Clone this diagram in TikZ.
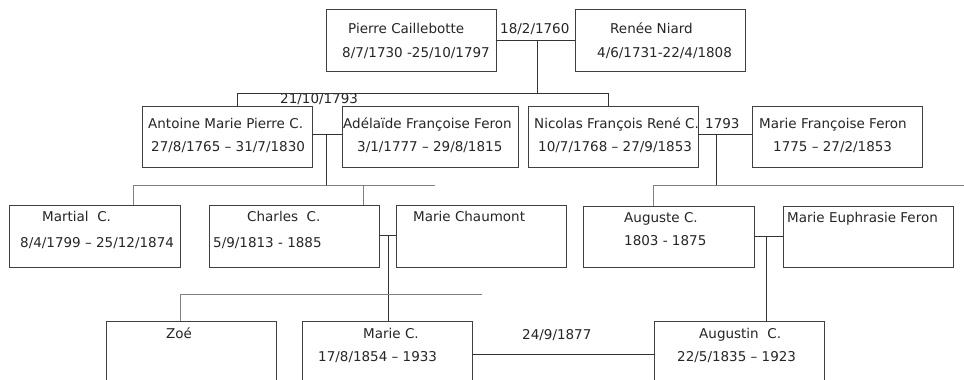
\documentclass[tikz,border=0pt]{standalone}
\usepackage{fontspec}
\setmainfont{DejaVu Sans}
\begin{document}
\begin{tikzpicture}[x=1pt,y=-1pt,
  box/.style={draw=black!75,line width=0.9pt,minimum width=170pt,minimum height=61pt,inner sep=0pt},
  txt/.style={anchor=base west,inner sep=0pt,text=black!85,font=\fontsize{13.5pt}{16pt}\selectfont},
  link/.style={draw=black!80,line width=0.9pt},
  branch/.style={draw=black!50,line width=1pt}]
\useasboundingbox (0,0) rectangle (964,380);
\fill[white] (0,0) rectangle (964,380);

% boxes
\node[box,minimum height=62pt] (pierre) at (411,40) {};
\node[box,minimum height=62pt] (renee) at (660,40) {};
\node[box] (antoine) at (227,136.5) {};
\node[box,minimum width=176pt] (adelaide) at (430,136.5) {};
\node[box] (nicolas) at (613,136.5) {};
\node[box] (mfferon) at (837,136.5) {};
\node[box,minimum width=171pt,minimum height=62pt] (martial) at (94.5,236) {};
\node[box,minimum height=62pt] (charles) at (294,236) {};
\node[box,minimum height=62pt] (chaumont) at (481,236) {};
\node[box,minimum width=171pt] (auguste) at (668.5,236.5) {};
\node[box] (euphrasie) at (868,236.5) {};
\node[box,minimum height=64pt] (zoe) at (191,353) {};
\node[box,minimum height=64pt] (marie) at (387,353) {};
\node[box,minimum height=64pt] (augustin) at (739,353) {};

% texts
\node[txt] (t1a) at (348,34) {Pierre Caillebotte};
\node[txt] (t1b) at (342,57) {8/7/1730 -25/10/1797};
\node[txt] (t2a) at (610,34) {Renée Niard};
\node[txt] (t2b) at (597,57) {4/6/1731-22/4/1808};
\node[txt] (l1) at (500,34) {18/2/1760};

\node[txt] (t3a) at (148,128.5) {Antoine Marie Pierre C.};
\node[txt] (t3b) at (151,151) {27/8/1765 – 31/7/1830};
\node[txt] (t4a) at (343,128.5) {Adélaïde Françoise Feron};
\node[txt] (t4b) at (357,151) {3/1/1777 – 29/8/1815};
\node[txt] (l2) at (280,103) {21/10/1793};
\node[txt] (t5a) at (534,128.5) {Nicolas François René C.};
\node[txt] (t5b) at (538,151) {10/7/1768 – 27/9/1853};
\node[txt] (l3) at (705,128.5) {1793};
\node[txt] (t6a) at (759,128.5) {Marie Françoise Feron};
\node[txt] (t6b) at (773,151) {1775 – 27/2/1853};

\node[txt] (t7a) at (42,221) {Martial\ \ C.};
\node[txt] (t7b) at (20,247) {8/4/1799 – 25/12/1874};
\node[txt] (t8a) at (247,221) {Charles\ \ C.};
\node[txt] (t8b) at (213,247) {5/9/1813 - 1885};
\node[txt] (t9a) at (413,221) {Marie Chaumont};
\node[txt] (t10a) at (624,222) {Auguste C.};
\node[txt] (t10b) at (624,245) {1803 - 1875};
\node[txt] (t11a) at (787,222) {Marie Euphrasie Feron};

\node[txt] (t12a) at (166,338) {Zoé};
\node[txt] (t13a) at (363,338) {Marie C.};
\node[txt] (t13b) at (318,361) {17/8/1854 – 1933};
\node[txt] (l4) at (522,339) {24/9/1877};
\node[txt] (t14a) at (699,338) {Augustin\ \ C.};
\node[txt] (t14b) at (677,361) {22/5/1835 – 1923};

% connectors
\coordinate (m1) at (537,40);
\coordinate (b1l) at (237,93);
\coordinate (b1r) at (608,93);
\draw[link] (pierre.east) -- (renee.west);
\draw[link] (m1) -- (m1 |- b1l);
\draw[link] (antoine.north -| b1l) -- (b1l) -- (b1r) -- (nicolas.north -| b1r);

\coordinate (m2) at (326,134);
\coordinate (b2l) at (133,185);
\coordinate (b2r) at (435,185);
\coordinate (b2c) at (363,185);
\draw[link] (antoine.east |- m2) -- (adelaide.west |- m2);
\draw[link] (m2) -- (m2 |- b2l);
\draw[branch] (martial.north -| b2l) -- (b2l) -- (b2r);
\draw[branch] (b2c) -- (charles.north -| b2c);

\coordinate (m3) at (716,134);
\coordinate (b3l) at (653,185);
\coordinate (b3r) at (970,185);
\draw[link] (nicolas.east |- m3) -- (mfferon.west |- m3);
\draw[link] (m3) -- (m3 |- b3l);
\draw[branch] (auguste.north -| b3l) -- (b3l) -- (b3r);

\coordinate (m4) at (388,235);
\coordinate (b4l) at (180,294);
\coordinate (b4r) at (482,294);
\draw[link] (charles.east |- m4) -- (chaumont.west |- m4);
\draw[link] (m4) -- (marie.north -| m4);
\draw[branch] (zoe.north -| b4l) -- (b4l) -- (b4r);

\coordinate (m5) at (766,236);
\draw[link] (auguste.east |- m5) -- (euphrasie.west |- m5);
\draw[link] (m5) -- (augustin.north -| m5);

\coordinate (m6) at (560,354);
\draw[link] (marie.east |- m6) -- (augustin.west |- m6);
\end{tikzpicture}
\end{document}
